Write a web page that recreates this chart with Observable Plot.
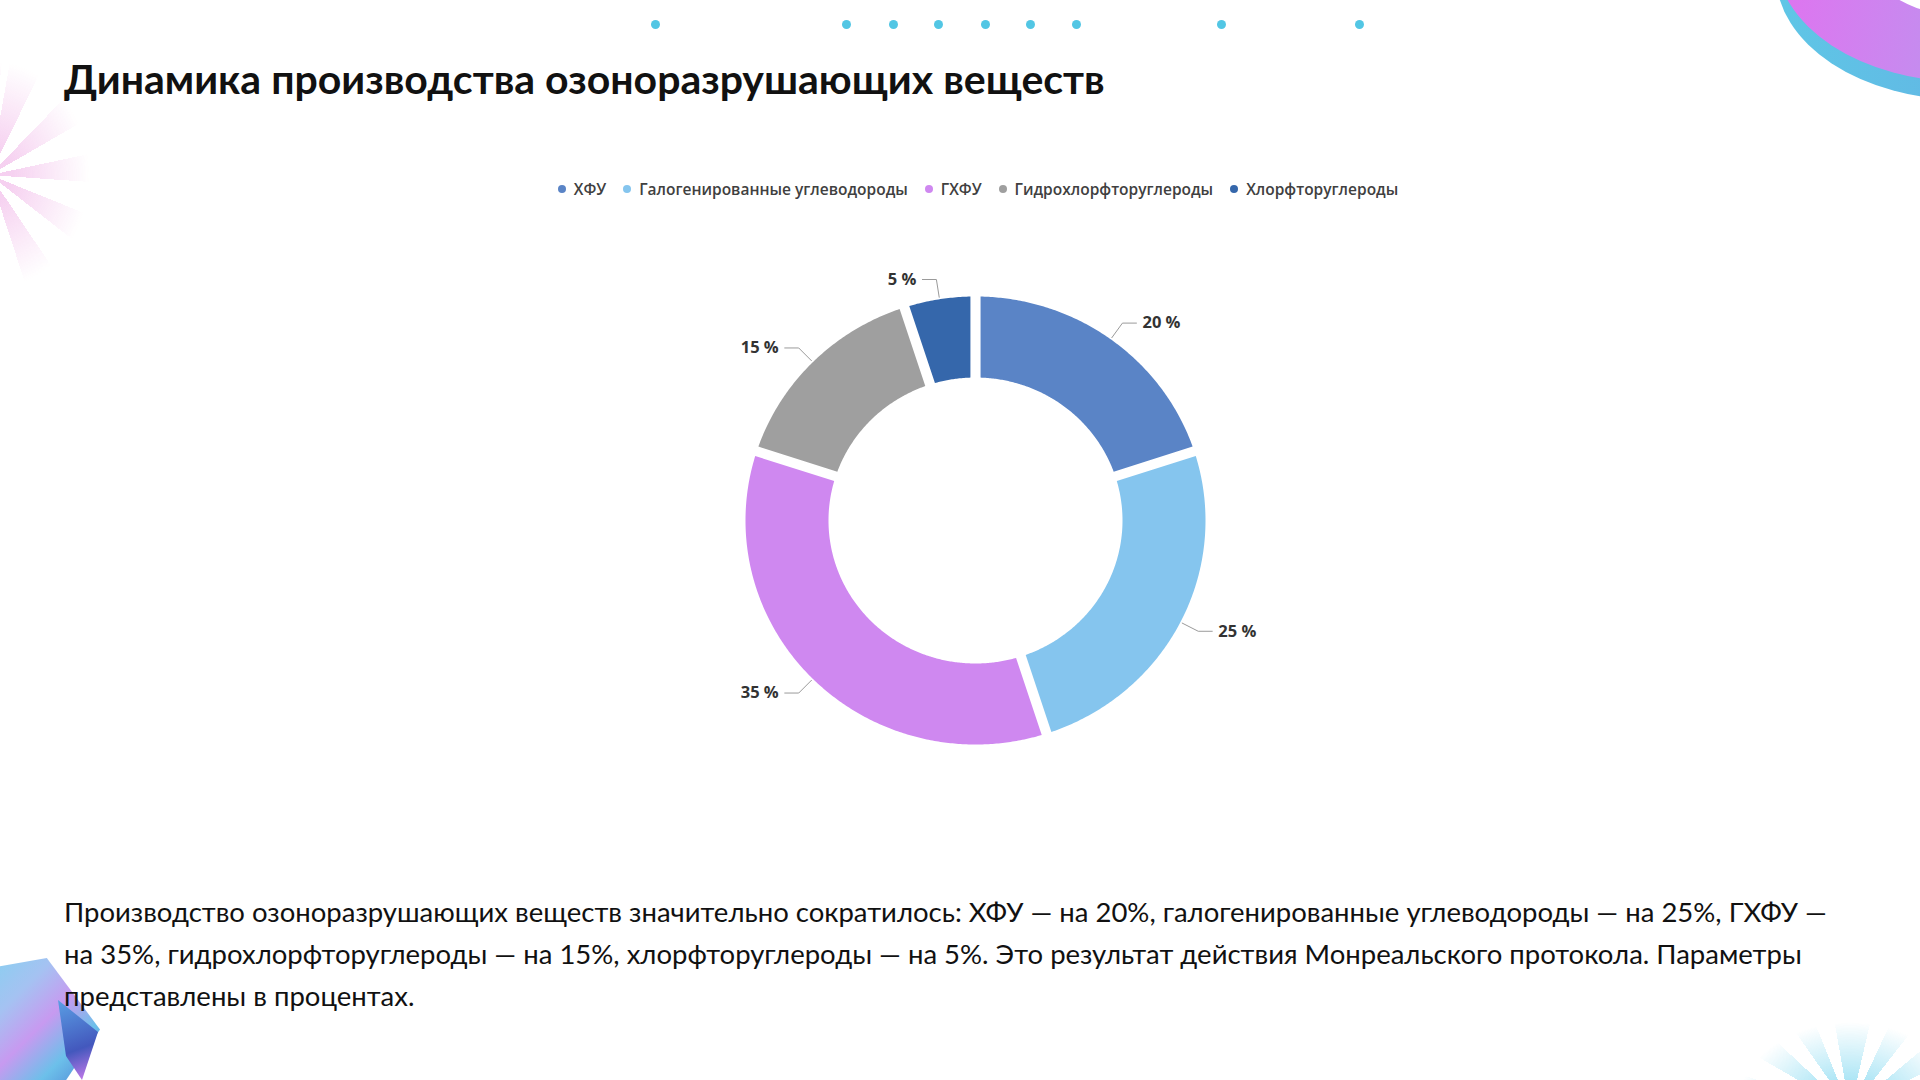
<!DOCTYPE html>
<html lang="ru">
<head>
<meta charset="utf-8">
<script src="https://cdn.jsdelivr.net/npm/d3@7"></script>
<script src="https://cdn.jsdelivr.net/npm/@observablehq/plot@0.6"></script>
<style>
  html, body { margin: 0; padding: 0; }
  body { width: 1920px; height: 1080px; position: relative; overflow: hidden; background: #ffffff; font-family: Lato, "Open Sans", sans-serif; }
  .deco { position: absolute; pointer-events: none; }
  #title { position: absolute; left: 64px; top: 55px; margin: 0; font: 700 41px/48px Lato, sans-serif; color: #111; white-space: nowrap; }
  #legend { position: absolute; left: 0; top: 178px; width: 1956px; display: flex; justify-content: center; align-items: center; gap: 17px; font: 600 15.5px "Open Sans", sans-serif; color: #404040; }
  #legend .item { display: flex; align-items: center; gap: 8px; white-space: nowrap; }
  #legend .dot { width: 8px; height: 8px; border-radius: 50%; }
  #chart { position: absolute; left: 0; top: 220px; }
  #caption { position: absolute; left: 64px; top: 891px; margin: 0; font: 400 27.5px/42px Lato, sans-serif; color: #111; white-space: nowrap; }
  .tdot { position: absolute; top: 20px; width: 9px; height: 9px; border-radius: 50%; background: #52c6e4; }
</style>
</head>
<body>
<!-- decorations -->
<div class="deco" style="left:-110px; top:60px; width:200px; height:230px; border-radius:50%;
  background: repeating-conic-gradient(from 10deg, rgba(238,170,228,0.55) 0deg 16deg, rgba(255,255,255,0) 16deg 34deg);
  -webkit-mask-image: radial-gradient(ellipse, rgba(0,0,0,1) 15%, rgba(0,0,0,0) 70%); mask-image: radial-gradient(ellipse, rgba(0,0,0,1) 15%, rgba(0,0,0,0) 70%);"></div>
<div class="deco" style="left:1720px; top:1010px; width:260px; height:200px; border-radius:50%;
  background: repeating-conic-gradient(from 0deg, rgba(110,210,238,0.65) 0deg 13deg, rgba(255,255,255,0) 13deg 25deg);
  -webkit-mask-image: radial-gradient(ellipse, rgba(0,0,0,1) 15%, rgba(0,0,0,0) 62%); mask-image: radial-gradient(ellipse, rgba(0,0,0,1) 15%, rgba(0,0,0,0) 62%);"></div>
<!-- top-right ring -->
<div class="deco" style="left:1776px; top:-150px; width:380px; height:250px; border-radius:50%; background: linear-gradient(90deg,#5fc6e6,#62b5e4 60%,#7fb2e6);"></div>
<div class="deco" style="left:1776px; top:-168px; width:380px; height:250px; border-radius:50%; background: linear-gradient(100deg,#e46ff0 0%,#c58cef 45%,#8ec8ef 100%);"></div>
<div class="deco" style="left:1866px; top:-110px; width:220px; height:128px; border-radius:50%; background:#ffffff;"></div>
<!-- bottom-left crystal -->
<div class="deco" style="left:-40px; top:958px; width:140px; height:130px;
  clip-path: polygon(10% 10%, 62% 0%, 100% 55%, 72% 100%, 0% 100%);
  background: linear-gradient(135deg,#7ad6ef 0%,#a5c2f2 35%,#c79af0 55%,#6cc0ea 75%,#4a78d0 100%);"></div>
<div class="deco" style="left:58px; top:1000px; width:40px; height:80px;
  clip-path: polygon(0% 0%, 100% 40%, 60% 100%, 20% 70%);
  background: linear-gradient(160deg,#5a9fe4,#4358bd 60%,#d47ef0);"></div>

<div id="topdots"></div>

<h1 id="title">Динамика производства озоноразрушающих веществ</h1>
<div id="legend"></div>
<div id="chart"></div>
<p id="caption"></p>

<script>
// ---- data ----
const names = ["ХФУ", "Галогенированные углеводороды", "ГХФУ", "Гидрохлорфторуглероды", "Хлорфторуглероды"];
const values = [20, 25, 35, 15, 5];
const colors = ["#5a84c6", "#85c5ee", "#cf88f0", "#9f9f9f", "#3567ab"];
const labelTexts = ["20 %", "25 %", "35 %", "15 %", "5 %"];
const captionLines = [
  "Производство озоноразрушающих веществ значительно сократилось: ХФУ — на 20%, галогенированные углеводороды — на 25%, ГХФУ —",
  "на 35%, гидрохлорфторуглероды — на 15%, хлорфторуглероды — на 5%. Это результат действия Монреальского протокола. Параметры",
  "представлены в процентах."
];
const topDotX = [655, 846, 893, 938, 985, 1030, 1076, 1221, 1359];

// ---- decorations ----
const td = document.getElementById("topdots");
topDotX.forEach(x => { const d = document.createElement("div"); d.className = "tdot"; d.style.left = (x - 4.5) + "px"; td.appendChild(d); });

// ---- legend ----
const lg = document.getElementById("legend");
names.forEach((n, i) => {
  const it = document.createElement("div"); it.className = "item";
  const dot = document.createElement("span"); dot.className = "dot"; dot.style.background = colors[i];
  const t = document.createElement("span"); t.textContent = n;
  it.appendChild(dot); it.appendChild(t); lg.appendChild(it);
});

// ---- caption ----
document.getElementById("caption").innerHTML = captionLines.join("<br>");

// ---- donut geometry ----
const W = 1920, H = 620, cx = 975, cy = 300;
const Rx = 230, Ry = 224, rx0 = 147, ry0 = 143, halfGap = 5;
const total = d3.sum(values);
const toRad = Math.PI / 180;
let acc = 0;
const slices = names.map((n, i) => {
  const a0 = acc / total * 360; acc += values[i];
  const a1 = acc / total * 360;
  return {name: n, value: values[i], a0, a1, label: labelTexts[i]};
});

const slicePts = [];
slices.forEach(s => {
  const Rm = (Rx + Ry) / 2, rm = (rx0 + ry0) / 2;
  const oA = Math.asin(halfGap / Rm) / toRad, iA = Math.asin(halfGap / rm) / toRad;
  const o0 = s.a0 + oA, o1 = s.a1 - oA, i0 = s.a0 + iA, i1 = s.a1 - iA;
  const no = Math.max(2, Math.ceil((o1 - o0) / 0.5));
  for (let k = 0; k <= no; k++) {
    const a = (o0 + (o1 - o0) * k / no) * toRad;
    slicePts.push({name: s.name, x: Rx * Math.sin(a), y: -Ry * Math.cos(a)});
  }
  const ni = Math.max(2, Math.ceil((i1 - i0) / 0.5));
  for (let k = ni; k >= 0; k--) {
    const a = (i0 + (i1 - i0) * k / ni) * toRad;
    slicePts.push({name: s.name, x: rx0 * Math.sin(a), y: -ry0 * Math.cos(a)});
  }
});

const leaderPts = [];
const labels = [];
slices.forEach(s => {
  const m = (s.a0 + s.a1) / 2 * toRad;
  const side = Math.sin(m) >= 0 ? 1 : -1;
  const sx = (Rx + 2) * Math.sin(m), sy = -(Ry + 2) * Math.cos(m);
  const ex = (Rx + 20) * Math.sin(m), ey = -(Ry + 20) * Math.cos(m);
  const hx = ex + side * 14;
  leaderPts.push({name: s.name, x: sx, y: sy}, {name: s.name, x: ex, y: ey}, {name: s.name, x: hx, y: ey});
  labels.push({name: s.name, x: hx + side * 6, y: ey, text: s.label, side});
});

const plot = Plot.plot({
  width: W, height: H,
  margin: 0,
  x: {domain: [-cx, W - cx], range: [0, W], axis: null},
  y: {domain: [-cy, H - cy], range: [0, H], axis: null},
  color: {domain: names, range: colors},
  style: {background: "transparent", overflow: "visible"},
  marks: [
    Plot.line(slicePts, {x: "x", y: "y", z: "name", fill: "name", stroke: "none", curve: "linear-closed"}),
    Plot.line(leaderPts, {x: "x", y: "y", z: "name", stroke: "#9a9a9a", strokeWidth: 1, curve: "linear"}),
    Plot.text(labels.filter(d => d.side > 0), {x: "x", y: "y", text: "text", textAnchor: "start", fontSize: 16.5, fontWeight: 700, fill: "#333", fontFamily: "Open Sans"}),
    Plot.text(labels.filter(d => d.side < 0), {x: "x", y: "y", text: "text", textAnchor: "end", fontSize: 16.5, fontWeight: 700, fill: "#333", fontFamily: "Open Sans"})
  ]
});
document.getElementById("chart").appendChild(plot);
</script>
</body>
</html>
